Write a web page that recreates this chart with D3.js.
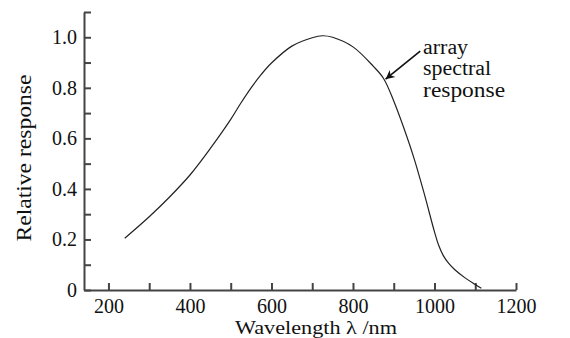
<!DOCTYPE html>
<html>
<head>
<meta charset="utf-8">
<script src="https://cdn.jsdelivr.net/npm/d3@7"></script>
<style>
  body { margin: 0; background: #fff; }
  text { font-family: "Liberation Serif", "Times New Roman", serif; fill: #111; }
</style>
</head>
<body>
<div id="viz"></div>
<script>
const width = 570;
const height = 338;
const axisColor = '#444';

// Data
const wavelengths = [240, 300, 350, 400, 450, 500, 525, 550, 575, 600, 650, 700, 725, 750, 800, 850, 875, 900, 925, 950, 975, 1000, 1010, 1022, 1035, 1050, 1075, 1100, 1115];
const responses = [0.205, 0.29, 0.368, 0.455, 0.56, 0.675, 0.74, 0.80, 0.853, 0.898, 0.965, 0.998, 1.006, 1.0, 0.962, 0.885, 0.837, 0.748, 0.64, 0.52, 0.38, 0.23, 0.178, 0.135, 0.105, 0.08, 0.048, 0.022, 0.007];

const xTicks = [200, 300, 400, 500, 600, 700, 800, 900, 1000, 1100, 1200];
const yTicks = [0, 0.1, 0.2, 0.3, 0.4, 0.5, 0.6, 0.7, 0.8, 0.9, 1.0, 1.1];
const xLabelled = [200, 400, 600, 800, 1000, 1200];
const yLabelled = [0, 0.2, 0.4, 0.6, 0.8, 1.0];

const annotationLines = ['array', 'spectral', 'response'];

const data = wavelengths.map((w, i) => ({w: w, r: responses[i]}));

const xScale = d3.scaleLinear().domain([140, 1200]).range([84, 516]);
const yScale = d3.scaleLinear().domain([0, 1.1]).range([290, 12]);

const svg = d3.select('#viz')
  .append('svg')
    .attr('width', width)
    .attr('height', height);

svg.append('defs')
  .append('marker')
    .attr('id', 'arrow')
    .attr('viewBox', '0 0 10 10')
    .attr('refX', 10)
    .attr('refY', 5)
    .attr('markerWidth', 10)
    .attr('markerHeight', 9)
    .attr('markerUnits', 'userSpaceOnUse')
    .attr('orient', 'auto')
  .append('path')
    .attr('d', 'M0,0 L10,5 L0,10 L3,5 Z')
    .attr('fill', '#111');

// x axis, ticks pointing up
const xAxis = d3.axisBottom(xScale)
  .tickValues(xTicks)
  .tickSizeInner(-7)
  .tickSizeOuter(0)
  .tickPadding(9)
  .tickFormat(d => xLabelled.includes(d) ? d : '');
const xAxisGroup = svg.append('g')
    .attr('transform', `translate(0, ${yScale(0)})`)
  .call(xAxis);

// y axis, ticks pointing right
const yAxis = d3.axisLeft(yScale)
  .tickValues(yTicks)
  .tickSizeInner(-7)
  .tickSizeOuter(0)
  .tickPadding(7)
  .tickFormat(d => yLabelled.includes(d) ? (d === 0 ? '0' : d3.format('.1f')(d)) : '');
const yAxisGroup = svg.append('g')
    .attr('transform', `translate(${xScale(140)}, 0)`)
  .call(yAxis);

[xAxisGroup, yAxisGroup].forEach(g => {
  g.selectAll('path, line').attr('stroke', axisColor).attr('stroke-width', 2);
  g.selectAll('text')
    .style('font-family', '"Liberation Serif", serif')
    .style('font-size', '20px')
    .attr('fill', '#111');
});

// axis titles
svg.append('text')
    .attr('x', 316)
    .attr('y', 334)
    .attr('text-anchor', 'middle')
    .attr('textLength', 162)
    .attr('lengthAdjust', 'spacingAndGlyphs')
    .style('font-size', '18.5px')
    .text('Wavelength \u03bb /nm');

svg.append('text')
    .attr('transform', 'translate(31, 158) rotate(-90)')
    .attr('text-anchor', 'middle')
    .attr('textLength', 167)
    .attr('lengthAdjust', 'spacingAndGlyphs')
    .style('font-size', '21px')
    .text('Relative response');

// curve
const line = d3.line()
  .x(d => xScale(d.w))
  .y(d => yScale(d.r))
  .curve(d3.curveCatmullRom);

svg.append('path')
    .datum(data)
    .attr('d', line)
    .attr('fill', 'none')
    .attr('stroke', '#222')
    .attr('stroke-width', 1.2);

// annotation
svg.append('line')
    .attr('x1', xScale(965))
    .attr('y1', yScale(0.945))
    .attr('x2', xScale(880))
    .attr('y2', yScale(0.834))
    .attr('stroke', '#111')
    .attr('stroke-width', 1.6)
    .attr('marker-end', 'url(#arrow)');

const annoBaselines = [0.933, 0.85, 0.765];
svg.selectAll('.anno')
  .data(annotationLines)
  .join('text')
    .attr('class', 'anno')
    .attr('x', xScale(972))
    .attr('y', (d, i) => yScale(annoBaselines[i]))
    .attr('textLength', (d, i) => [45, 68, 82][i])
    .attr('lengthAdjust', 'spacingAndGlyphs')
    .style('font-size', '20px')
    .text(d => d);
</script>
</body>
</html>
